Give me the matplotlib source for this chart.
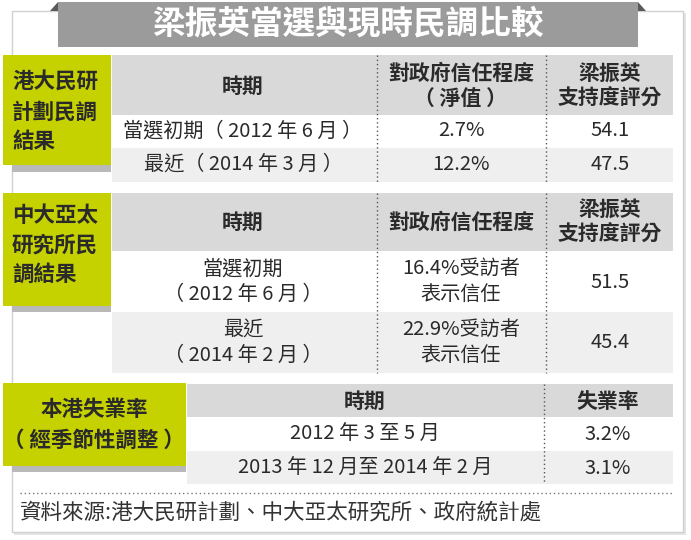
import matplotlib
matplotlib.use("Agg")
import matplotlib.pyplot as plt
from matplotlib.patches import Rectangle, Polygon

plt.rcParams['font.family'] = ['Noto Sans CJK TC', 'DejaVu Sans']

title = "梁振英當選與現時民調比較"

hku_label = ["港大民研", "計劃民調", "結果"]
hku_header = ["時期", "對政府信任程度\n（ 淨值 ）", "梁振英\n支持度評分"]
hku_period = ["當選初期（ 2012 年 6 月 ）", "最近（ 2014 年 3 月 ）"]
hku_trust = ["2.7%", "12.2%"]
hku_score = ["54.1", "47.5"]

cu_label = ["中大亞太", "研究所民", "調結果"]
cu_header = ["時期", "對政府信任程度", "梁振英\n支持度評分"]
cu_period = ["當選初期\n（ 2012 年 6 月 ）", "最近\n（ 2014 年 2 月 ）"]
cu_trust = ["16.4%受訪者\n表示信任", "22.9%受訪者\n表示信任"]
cu_score = ["51.5", "45.4"]

job_label = ["本港失業率", "（ 經季節性調整 ）"]
job_header = ["時期", "失業率"]
job_period = ["2012 年 3 至 5 月", "2013 年 12 月至 2014 年 2 月"]
job_rate = ["3.2%", "3.1%"]

source = "資料來源:港大民研計劃、中大亞太研究所、政府統計處"

GREEN = "#c5d200"
HEAD = "#d9d9d9"
ALT = "#efefef"
TXT = "#2a2a2a"

fig = plt.figure(figsize=(6.91, 5.40), dpi=100)
ax = fig.add_axes([0, 0, 1, 1])
ax.set_xlim(0, 691)
ax.set_ylim(540, 0)
ax.axis("off")


def box(x0, y0, x1, y1, color, z=1, **kw):
    ax.add_patch(Rectangle((x0, y0), x1 - x0, y1 - y0, facecolor=color, zorder=z, **kw))


def cell(x, y, s, step=25, size=14.5, weight="normal", color=TXT, ha="center"):
    lines = s.split("\n")
    y0 = y - step * (len(lines) - 1) / 2
    for i, line in enumerate(lines):
        ax.text(x, y0 + i * step, line, ha=ha, va="center", fontsize=size,
                fontweight=weight, color=color, zorder=5)


def vdots(x, y0, y1):
    ax.plot([x, x], [y0, y1], color="#555555", linestyle=(0, (1, 2)), linewidth=1, zorder=4)


# card with soft shadow
box(14, 13, 686, 535, "#e4e4e4", z=0, edgecolor="none")
box(12, 11, 683, 532, "white", z=0.5, edgecolor="#d0d0d0", linewidth=1)

# title banner
box(58, 2, 638, 47, "#9b9b9b", z=2, edgecolor="none")
ax.add_patch(Polygon([(50, 11), (58, 2), (58, 11)], facecolor="#5a5a5a", zorder=2))
ax.add_patch(Polygon([(638, 2), (646, 11), (638, 11)], facecolor="#5a5a5a", zorder=2))
ax.text(348, 24, title, ha="center", va="center", fontsize=23.5, fontweight="bold",
        color="white", zorder=5)

# columns of the two poll tables
c_period = 243
c_trust = 461
c_score = 610
x_tab0, x_tab1 = 112, 673
x_div1, x_div2 = 377, 546

# ---- section 1 : HKU POP
y_h, y_r1, y_r2, y_end = 55, 115, 148, 182
box(12, 165, 111, 172, "#b9b9b9", z=1.5, edgecolor="none")
box(3, 55, 111, 165, GREEN, z=2, edgecolor="none")
for i, s in enumerate(hku_label):
    cell(12, 82 + i * 30, s, size=15.5, weight="bold", ha="left")
box(x_tab0, y_h, x_tab1, y_r1, HEAD, edgecolor="none")
box(x_tab0, y_r1, x_tab1, y_r2, "white", edgecolor="none")
box(x_tab0, y_r2, x_tab1, y_end, ALT, edgecolor="none")
vdots(x_div1, y_h, y_end)
vdots(x_div2, y_h, y_end)
for x, s in zip([c_period, c_trust, c_score], hku_header):
    cell(x, 86, s, size=15, weight="bold")
for i in range(2):
    yc = (y_r1, y_r2)[i] + 16
    cell(c_period, yc, hku_period[i])
    cell(c_trust, yc, hku_trust[i])
    cell(c_score, yc, hku_score[i])

# ---- section 2 : CUHK
y_h, y_r1, y_r2, y_end = 193, 251, 312, 373
box(12, 306, 111, 312, "#b9b9b9", z=1.5, edgecolor="none")
box(3, 193, 111, 306, GREEN, z=2, edgecolor="none")
for i, s in enumerate(cu_label):
    cell(12, 215 + i * 30, s, size=15.5, weight="bold", ha="left")
box(x_tab0, y_h, x_tab1, y_r1, HEAD, edgecolor="none")
box(x_tab0, y_r1, x_tab1, y_r2, "white", edgecolor="none")
box(x_tab0, y_r2, x_tab1, y_end, ALT, edgecolor="none")
vdots(x_div1, y_h, y_end)
vdots(x_div2, y_h, y_end)
for x, s in zip([c_period, c_trust, c_score], cu_header):
    cell(x, 222, s, size=15, weight="bold")
for i in range(2):
    yc = (y_r1, y_r2)[i] + 31
    cell(c_period, yc, cu_period[i])
    cell(c_trust, yc, cu_trust[i])
    cell(c_score, yc, cu_score[i])

# ---- section 3 : unemployment
y_h, y_r1, y_r2, y_end = 384, 417, 451, 484
box(12, 466, 186, 472, "#b9b9b9", z=1.5, edgecolor="none")
box(3, 383, 186, 466, GREEN, z=2, edgecolor="none")
cell(94, 410, job_label[0], size=15.5, weight="bold")
cell(94, 440, job_label[1], size=15.5, weight="bold")
box(187, y_h, x_tab1, y_r1, HEAD, edgecolor="none")
box(187, y_r1, x_tab1, y_r2, "white", edgecolor="none")
box(187, y_r2, x_tab1, y_end, ALT, edgecolor="none")
vdots(544, y_h, y_end)
cell(365, 401, job_header[0], size=15, weight="bold")
cell(608, 401, job_header[1], size=15, weight="bold")
for i in range(2):
    yc = (y_r1, y_r2)[i] + 17
    cell(365, yc, job_period[i])
    cell(608, yc, job_rate[i])

# source line
ax.plot([20, 673], [493, 493], color="#777777", linestyle=(0, (1, 2)), linewidth=1, zorder=4)
cell(20, 512, source, size=15.5, ha="left", color="#333333")

fig.savefig("out.png", dpi=100)
